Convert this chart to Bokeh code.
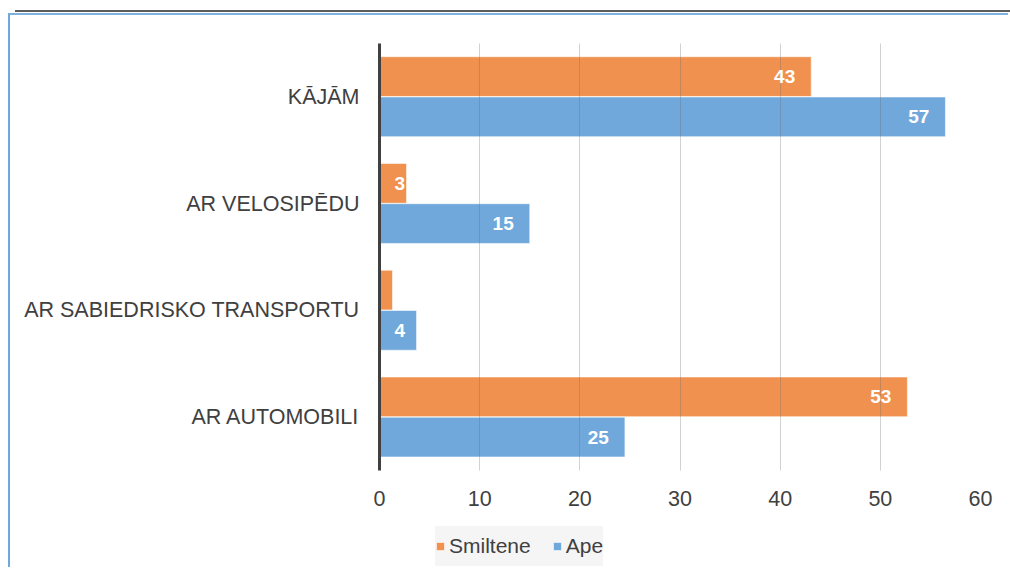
from bokeh.plotting import figure
from bokeh.models import (ColumnDataSource, FactorRange, FixedTicker, LabelSet,
                          Legend, LegendItem, Div)
from bokeh.core.properties import value
from bokeh.transform import dodge
from bokeh.layouts import column
from bokeh.embed import file_html
from bokeh.resources import INLINE

# ---- data (top to bottom as shown) ----
categories = ["KĀJĀM", "AR VELOSIPĒDU", "AR SABIEDRISKO TRANSPORTU", "AR AUTOMOBILI"]
smiltene = [43.1, 2.7, 1.3, 52.7]
ape = [56.5, 15.0, 3.7, 24.5]
smiltene_labels = ["43", "3", "", "53"]
ape_labels = ["57", "15", "4", "25"]
x_ticks = [0, 10, 20, 30, 40, 50, 60]
series_names = ["Smiltene", "Ape"]

ORANGE = "#F0914F"
BLUE = "#70A8DB"
TEXT = "#404040"
FONT = "Liberation Sans"
BORDER = "2px solid #6FA8DC"

factors = list(reversed(categories))

p = figure(width=1000, height=500, y_range=FactorRange(*factors, range_padding=0),
           x_range=(0, 60), output_backend="svg", toolbar_location=None,
           min_border_left=369, min_border_right=30, min_border_top=28,
           min_border_bottom=45, margin=(0, 0, 0, 8),
           styles={"border-top": "2px solid #7DB1E0", "border-left": BORDER})
p.outline_line_color = None
p.background_fill_color = "white"
p.border_fill_color = "white"


def make_source(vals, labels):
    short = [v < 5 for v in vals]
    return ColumnDataSource(dict(
        cat=categories, val=vals, lbl=labels,
        lx=[0 if s else v for s, v in zip(short, vals)],
        off=[15 if s else -16 for s in short],
        align=["left" if s else "right" for s in short],
    ))


src_s = make_source(smiltene, smiltene_labels)
src_a = make_source(ape, ape_labels)

bar_style = dict(line_color="white", line_alpha=0.55, line_width=1)
r1 = p.hbar(y=dodge("cat", 0.19, range=p.y_range), right="val", left=0, height=0.372,
            source=src_s, fill_color=ORANGE, **bar_style)
r2 = p.hbar(y=dodge("cat", -0.187, range=p.y_range), right="val", left=0, height=0.372,
            source=src_a, fill_color=BLUE, **bar_style)

for src, off in ((src_s, 0.19), (src_a, -0.187)):
    ls = LabelSet(x="lx", y=dodge("cat", off, range=p.y_range), text="lbl", source=src,
                  x_offset="off", text_align="align", text_baseline="middle",
                  text_color="white", text_font=value(FONT), text_font_style="bold",
                  text_font_size="19px", level="overlay")
    p.add_layout(ls)

# axes
p.xaxis.ticker = FixedTicker(ticks=x_ticks)
p.xaxis.axis_line_color = None
p.xaxis.major_tick_line_color = None
p.xaxis.minor_tick_line_color = None
p.xaxis.major_label_text_font = FONT
p.xaxis.major_label_text_font_size = "21.5px"
p.xaxis.major_label_text_color = TEXT
p.xaxis.major_label_standoff = 14

p.yaxis.axis_line_color = "#404040"
p.yaxis.axis_line_width = 3
p.yaxis.major_tick_line_color = None
p.yaxis.minor_tick_line_color = None
p.yaxis.major_label_text_font = FONT
p.yaxis.major_label_text_font_size = "21.5px"
p.yaxis.major_label_text_color = TEXT
p.yaxis.major_label_standoff = 14

p.ygrid.grid_line_color = None
p.xgrid.ticker = FixedTicker(ticks=x_ticks[1:])
p.xgrid.grid_line_color = "#6a6a6a"
p.xgrid.grid_line_alpha = 0.3
p.xgrid.level = "annotation"

# ---- legend strip (separate figure so the legend is not clipped) ----
pl = figure(width=1000, height=54, x_range=(0, 1), y_range=(0, 1),
            output_backend="svg", toolbar_location=None,
            x_axis_type=None, y_axis_type=None,
            min_border_left=369, min_border_right=30, min_border_top=0, min_border_bottom=0,
            margin=(0, 0, 0, 8), styles={"border-left": BORDER})
pl.outline_line_color = None
pl.border_fill_color = "white"
pl.background_fill_color = "white"
pl.xgrid.visible = False
pl.ygrid.visible = False
k1 = pl.hbar(y=[-10], right=[-10], left=[-11], height=0.3, fill_color=ORANGE, **bar_style)
k2 = pl.hbar(y=[-10], right=[-10], left=[-11], height=0.3, fill_color=BLUE, **bar_style)

legend = Legend(items=[LegendItem(label=series_names[0], renderers=[k1]),
                       LegendItem(label=series_names[1], renderers=[k2])],
                orientation="horizontal", location=(56, 1),
                background_fill_color="#F5F5F5", background_fill_alpha=1,
                border_line_color=None, label_text_font=FONT,
                label_text_font_size="21px", label_text_color=TEXT,
                glyph_width=10, glyph_height=10, label_standoff=4, spacing=21,
                label_height=40, padding=9, margin=0)
pl.add_layout(legend, "center")

top_line = Div(text="", width=1010, height=2, margin=(10, 0, 1, 0),
               styles={"background": "linear-gradient(to right, white 15px, #5c5c5c 15px)"})

layout = column(top_line, p, pl)
open("out.html", "w").write(file_html(layout, INLINE))
